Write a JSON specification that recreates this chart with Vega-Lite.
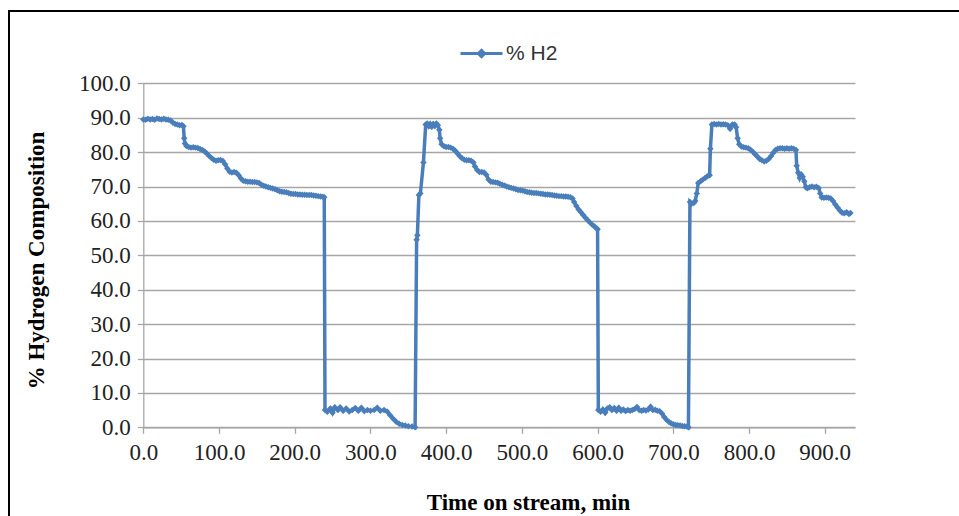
{
  "$schema": "https://vega.github.io/schema/vega-lite/v6.json",
  "autosize": {"type": "none"},
  "padding": {"left": 9, "top": 11, "right": 0, "bottom": 0},
  "width": 955,
  "height": 510,
  "background": "white",
  "config": {
    "view": {"stroke": "#000000", "strokeWidth": 2},
    "font": "Liberation Serif"
  },
  "data": {
    "values": [
      {"t": 0, "h2": 89.5}, {"t": 3, "h2": 89.4}, {"t": 6, "h2": 89.7}, {"t": 9, "h2": 89.5}, {"t": 12, "h2": 89.6},
      {"t": 15, "h2": 89.4}, {"t": 18, "h2": 89.8}, {"t": 21, "h2": 89.6}, {"t": 24, "h2": 89.5}, {"t": 27, "h2": 89.7},
      {"t": 30, "h2": 89.5}, {"t": 33, "h2": 89.4}, {"t": 36, "h2": 89.2}, {"t": 39, "h2": 88.6}, {"t": 42, "h2": 88.2},
      {"t": 45, "h2": 88.0}, {"t": 48, "h2": 87.8}, {"t": 51, "h2": 87.9}, {"t": 53, "h2": 87.5}, {"t": 54, "h2": 84.0},
      {"t": 55, "h2": 82.5}, {"t": 57, "h2": 81.8}, {"t": 60, "h2": 81.5}, {"t": 63, "h2": 81.3}, {"t": 66, "h2": 81.4},
      {"t": 69, "h2": 81.3}, {"t": 72, "h2": 81.2}, {"t": 75, "h2": 80.9}, {"t": 78, "h2": 80.6}, {"t": 81, "h2": 80.2},
      {"t": 84, "h2": 79.6}, {"t": 87, "h2": 78.9}, {"t": 90, "h2": 78.3}, {"t": 93, "h2": 77.8}, {"t": 96, "h2": 77.5},
      {"t": 99, "h2": 77.6}, {"t": 102, "h2": 77.7}, {"t": 105, "h2": 77.4}, {"t": 108, "h2": 76.5}, {"t": 111, "h2": 75.2},
      {"t": 114, "h2": 74.3}, {"t": 117, "h2": 74.1}, {"t": 120, "h2": 74.2}, {"t": 123, "h2": 74.0}, {"t": 126, "h2": 73.3},
      {"t": 129, "h2": 72.3}, {"t": 132, "h2": 71.7}, {"t": 135, "h2": 71.5}, {"t": 138, "h2": 71.4}, {"t": 141, "h2": 71.4},
      {"t": 144, "h2": 71.3}, {"t": 147, "h2": 71.3}, {"t": 150, "h2": 71.2}, {"t": 153, "h2": 71.0}, {"t": 156, "h2": 70.5},
      {"t": 159, "h2": 70.2}, {"t": 162, "h2": 70.0}, {"t": 165, "h2": 69.8}, {"t": 168, "h2": 69.6}, {"t": 171, "h2": 69.4},
      {"t": 174, "h2": 69.2}, {"t": 177, "h2": 68.9}, {"t": 180, "h2": 68.6}, {"t": 183, "h2": 68.5}, {"t": 186, "h2": 68.4},
      {"t": 189, "h2": 68.3}, {"t": 192, "h2": 68.1}, {"t": 195, "h2": 67.9}, {"t": 198, "h2": 67.8}, {"t": 201, "h2": 67.8},
      {"t": 204, "h2": 67.7}, {"t": 207, "h2": 67.7}, {"t": 210, "h2": 67.6}, {"t": 213, "h2": 67.6}, {"t": 216, "h2": 67.5},
      {"t": 219, "h2": 67.5}, {"t": 222, "h2": 67.5}, {"t": 225, "h2": 67.4}, {"t": 228, "h2": 67.3}, {"t": 231, "h2": 67.2},
      {"t": 234, "h2": 67.1}, {"t": 237, "h2": 67.0}, {"t": 239, "h2": 66.9},
      {"t": 240, "h2": 5.0}, {"t": 243, "h2": 4.5}, {"t": 247, "h2": 5.5}, {"t": 250, "h2": 4.2}, {"t": 253, "h2": 5.8},
      {"t": 257, "h2": 5.0}, {"t": 260, "h2": 5.8}, {"t": 264, "h2": 4.8}, {"t": 268, "h2": 5.5}, {"t": 272, "h2": 4.6},
      {"t": 276, "h2": 5.0}, {"t": 280, "h2": 5.6}, {"t": 284, "h2": 4.8}, {"t": 288, "h2": 5.7}, {"t": 292, "h2": 4.7},
      {"t": 296, "h2": 5.0}, {"t": 300, "h2": 4.8}, {"t": 305, "h2": 5.0}, {"t": 309, "h2": 5.7}, {"t": 313, "h2": 4.8},
      {"t": 318, "h2": 5.0}, {"t": 322, "h2": 4.6}, {"t": 326, "h2": 3.5}, {"t": 330, "h2": 2.5}, {"t": 334, "h2": 1.6},
      {"t": 338, "h2": 1.0}, {"t": 342, "h2": 0.7}, {"t": 346, "h2": 0.5}, {"t": 350, "h2": 0.3}, {"t": 355, "h2": 0.2},
      {"t": 359, "h2": 0.0},
      {"t": 361, "h2": 54.5}, {"t": 362, "h2": 55.8}, {"t": 364, "h2": 67.5}, {"t": 366, "h2": 68.0}, {"t": 370, "h2": 77.0},
      {"t": 373, "h2": 88.0}, {"t": 375, "h2": 88.3}, {"t": 377, "h2": 87.5}, {"t": 379, "h2": 88.2}, {"t": 381, "h2": 87.4},
      {"t": 383, "h2": 88.2}, {"t": 385, "h2": 87.6}, {"t": 387, "h2": 88.3}, {"t": 389, "h2": 87.8}, {"t": 391, "h2": 86.5},
      {"t": 392, "h2": 84.0}, {"t": 394, "h2": 82.3}, {"t": 397, "h2": 81.7}, {"t": 400, "h2": 81.5}, {"t": 403, "h2": 81.5},
      {"t": 406, "h2": 81.3}, {"t": 409, "h2": 81.0}, {"t": 412, "h2": 80.4}, {"t": 415, "h2": 79.6}, {"t": 418, "h2": 78.8},
      {"t": 421, "h2": 78.2}, {"t": 424, "h2": 77.8}, {"t": 427, "h2": 77.6}, {"t": 430, "h2": 77.6}, {"t": 433, "h2": 77.5},
      {"t": 436, "h2": 77.0}, {"t": 438, "h2": 75.8}, {"t": 441, "h2": 74.8}, {"t": 444, "h2": 74.2}, {"t": 447, "h2": 74.2},
      {"t": 450, "h2": 74.1}, {"t": 453, "h2": 73.4}, {"t": 456, "h2": 72.0}, {"t": 459, "h2": 71.4}, {"t": 462, "h2": 71.3},
      {"t": 465, "h2": 71.2}, {"t": 468, "h2": 71.1}, {"t": 471, "h2": 70.8}, {"t": 474, "h2": 70.5}, {"t": 477, "h2": 70.3},
      {"t": 480, "h2": 70.0}, {"t": 483, "h2": 69.8}, {"t": 486, "h2": 69.6}, {"t": 489, "h2": 69.4}, {"t": 492, "h2": 69.2},
      {"t": 495, "h2": 69.0}, {"t": 498, "h2": 68.9}, {"t": 501, "h2": 68.8}, {"t": 504, "h2": 68.6}, {"t": 507, "h2": 68.4},
      {"t": 510, "h2": 68.3}, {"t": 513, "h2": 68.2}, {"t": 516, "h2": 68.1}, {"t": 519, "h2": 68.1}, {"t": 522, "h2": 68.0},
      {"t": 525, "h2": 67.9}, {"t": 528, "h2": 67.8}, {"t": 531, "h2": 67.7}, {"t": 534, "h2": 67.7}, {"t": 537, "h2": 67.6},
      {"t": 540, "h2": 67.5}, {"t": 543, "h2": 67.4}, {"t": 546, "h2": 67.3}, {"t": 549, "h2": 67.2}, {"t": 552, "h2": 67.2},
      {"t": 555, "h2": 67.1}, {"t": 558, "h2": 67.1}, {"t": 561, "h2": 67.0}, {"t": 564, "h2": 66.9}, {"t": 567, "h2": 66.5},
      {"t": 569, "h2": 65.5}, {"t": 572, "h2": 64.3}, {"t": 575, "h2": 63.3}, {"t": 578, "h2": 62.5}, {"t": 581, "h2": 61.7},
      {"t": 584, "h2": 60.9}, {"t": 587, "h2": 60.2}, {"t": 590, "h2": 59.5}, {"t": 593, "h2": 58.9}, {"t": 596, "h2": 58.4},
      {"t": 599, "h2": 57.8}, {"t": 600, "h2": 57.6},
      {"t": 601, "h2": 5.0}, {"t": 604, "h2": 4.5}, {"t": 607, "h2": 5.2}, {"t": 610, "h2": 4.2}, {"t": 613, "h2": 5.5},
      {"t": 616, "h2": 5.8}, {"t": 619, "h2": 5.0}, {"t": 622, "h2": 5.6}, {"t": 625, "h2": 4.8}, {"t": 628, "h2": 5.7},
      {"t": 631, "h2": 4.8}, {"t": 634, "h2": 5.2}, {"t": 637, "h2": 4.7}, {"t": 640, "h2": 5.0}, {"t": 643, "h2": 4.8},
      {"t": 646, "h2": 5.0}, {"t": 649, "h2": 5.3}, {"t": 652, "h2": 5.9}, {"t": 655, "h2": 5.0}, {"t": 658, "h2": 4.8},
      {"t": 661, "h2": 5.0}, {"t": 664, "h2": 4.9}, {"t": 667, "h2": 5.2}, {"t": 670, "h2": 6.0}, {"t": 673, "h2": 5.0},
      {"t": 676, "h2": 5.1}, {"t": 679, "h2": 4.8}, {"t": 682, "h2": 4.7}, {"t": 685, "h2": 4.0}, {"t": 688, "h2": 3.0},
      {"t": 691, "h2": 2.2}, {"t": 694, "h2": 1.6}, {"t": 697, "h2": 1.2}, {"t": 700, "h2": 0.9}, {"t": 703, "h2": 0.7},
      {"t": 706, "h2": 0.6}, {"t": 709, "h2": 0.5}, {"t": 712, "h2": 0.4}, {"t": 715, "h2": 0.3}, {"t": 718, "h2": 0.2},
      {"t": 720, "h2": 0.0},
      {"t": 722, "h2": 65.5}, {"t": 724, "h2": 65.0}, {"t": 727, "h2": 65.2}, {"t": 729, "h2": 65.8}, {"t": 731, "h2": 68.0},
      {"t": 733, "h2": 71.0}, {"t": 736, "h2": 71.5}, {"t": 739, "h2": 72.0}, {"t": 742, "h2": 72.5}, {"t": 745, "h2": 73.0},
      {"t": 748, "h2": 73.3}, {"t": 749, "h2": 81.0}, {"t": 751, "h2": 88.0}, {"t": 754, "h2": 88.2}, {"t": 757, "h2": 88.0},
      {"t": 760, "h2": 88.2}, {"t": 763, "h2": 88.0}, {"t": 766, "h2": 88.1}, {"t": 769, "h2": 88.0}, {"t": 772, "h2": 87.8},
      {"t": 775, "h2": 86.8}, {"t": 778, "h2": 88.0}, {"t": 781, "h2": 88.0}, {"t": 783, "h2": 87.2}, {"t": 785, "h2": 84.0},
      {"t": 787, "h2": 82.3}, {"t": 790, "h2": 81.6}, {"t": 793, "h2": 81.4}, {"t": 796, "h2": 81.3}, {"t": 799, "h2": 81.1},
      {"t": 802, "h2": 80.7}, {"t": 805, "h2": 80.1}, {"t": 808, "h2": 79.4}, {"t": 811, "h2": 78.7}, {"t": 814, "h2": 78.0},
      {"t": 817, "h2": 77.6}, {"t": 820, "h2": 77.3}, {"t": 823, "h2": 77.5}, {"t": 826, "h2": 78.0}, {"t": 829, "h2": 78.8},
      {"t": 832, "h2": 79.8}, {"t": 835, "h2": 80.6}, {"t": 838, "h2": 81.0}, {"t": 841, "h2": 81.1}, {"t": 844, "h2": 81.1},
      {"t": 847, "h2": 81.0}, {"t": 850, "h2": 81.1}, {"t": 853, "h2": 81.0}, {"t": 856, "h2": 81.1}, {"t": 859, "h2": 81.0},
      {"t": 862, "h2": 80.6}, {"t": 863, "h2": 76.0}, {"t": 865, "h2": 74.0}, {"t": 867, "h2": 72.5}, {"t": 869, "h2": 73.5},
      {"t": 871, "h2": 72.8}, {"t": 873, "h2": 71.5}, {"t": 875, "h2": 69.8}, {"t": 877, "h2": 69.5}, {"t": 880, "h2": 69.8},
      {"t": 883, "h2": 70.0}, {"t": 886, "h2": 69.8}, {"t": 889, "h2": 69.9}, {"t": 892, "h2": 69.6}, {"t": 894, "h2": 68.0},
      {"t": 896, "h2": 66.8}, {"t": 899, "h2": 66.7}, {"t": 902, "h2": 66.8}, {"t": 905, "h2": 66.7}, {"t": 908, "h2": 66.5},
      {"t": 911, "h2": 65.8}, {"t": 914, "h2": 64.8}, {"t": 917, "h2": 63.9}, {"t": 920, "h2": 63.0}, {"t": 923, "h2": 62.4},
      {"t": 926, "h2": 62.2}, {"t": 929, "h2": 62.5}, {"t": 932, "h2": 62.0}, {"t": 934, "h2": 62.3}
    ]
  },
  "mark": {
    "type": "line",
    "strokeWidth": 3.5,
    "point": {"shape": "diamond", "size": 42, "filled": true}
  },
  "encoding": {
    "x": {
      "field": "t",
      "type": "quantitative",
      "scale": {"domain": [0, 940], "range": [134.3, 846], "nice": false},
      "axis": {
        "orient": "bottom",
        "offset": -93.7,
        "values": [0, 100, 200, 300, 400, 500, 600, 700, 800, 900],
        "format": ".1f",
        "grid": false,
        "domainColor": "#a6a6a6",
        "domainWidth": 1.3,
        "tickColor": "#a6a6a6",
        "tickWidth": 1.3,
        "tickSize": 6,
        "labelFont": "Liberation Serif",
        "labelFontSize": 23,
        "labelColor": "#222222",
        "labelPadding": 8,
        "labelFlush": false,
        "title": "Time on stream, min",
        "titleFont": "Liberation Serif",
        "titleFontSize": 23,
        "titleFontWeight": "bold",
        "titleColor": "#000000",
        "titleX": 519,
        "titleY": 82,
        "titleBaseline": "alphabetic",
        "titleAlign": "center"
      }
    },
    "y": {
      "field": "h2",
      "type": "quantitative",
      "scale": {"domain": [0, 100], "range": [416.3, 72.3], "nice": false},
      "axis": {
        "orient": "left",
        "offset": -134.3,
        "values": [0, 10, 20, 30, 40, 50, 60, 70, 80, 90, 100],
        "format": ".1f",
        "grid": true,
        "gridColor": "#a6a6a6",
        "gridWidth": 1.3,
        "domainColor": "#a6a6a6",
        "domainWidth": 1.3,
        "tickColor": "#a6a6a6",
        "tickWidth": 1.3,
        "tickSize": 6,
        "labelFont": "Liberation Serif",
        "labelFontSize": 23,
        "labelColor": "#222222",
        "labelPadding": 7,
        "labelFlush": false,
        "title": "% Hydrogen Composition",
        "titleFont": "Liberation Serif",
        "titleFontSize": 23,
        "titleFontWeight": "bold",
        "titleColor": "#000000",
        "titleAngle": 270,
        "titleX": -107.3,
        "titleY": 249,
        "titleBaseline": "middle",
        "titleAlign": "center"
      }
    },
    "color": {
      "datum": "% H2",
      "type": "nominal",
      "scale": {"range": ["#4a7ebb"]},
      "legend": {
        "orient": "none",
        "legendX": 450,
        "legendY": 20,
        "title": null,
        "padding": 0,
        "symbolType": "M-1,0H1M-0.15,0L0,-0.15L0.15,0L0,0.15Z",
        "symbolSize": 1764,
        "symbolStrokeWidth": 3,
        "labelFont": "Liberation Sans",
        "labelFontSize": 21,
        "labelColor": "#333333",
        "labelOffset": 2,
        "encode": {
          "symbols": {
            "update": {
              "fill": {"value": "#4a7ebb"},
              "stroke": {"value": "#4a7ebb"},
              "strokeWidth": {"value": 3},
              "opacity": {"value": 1}
            }
          }
        }
      }
    }
  }
}
